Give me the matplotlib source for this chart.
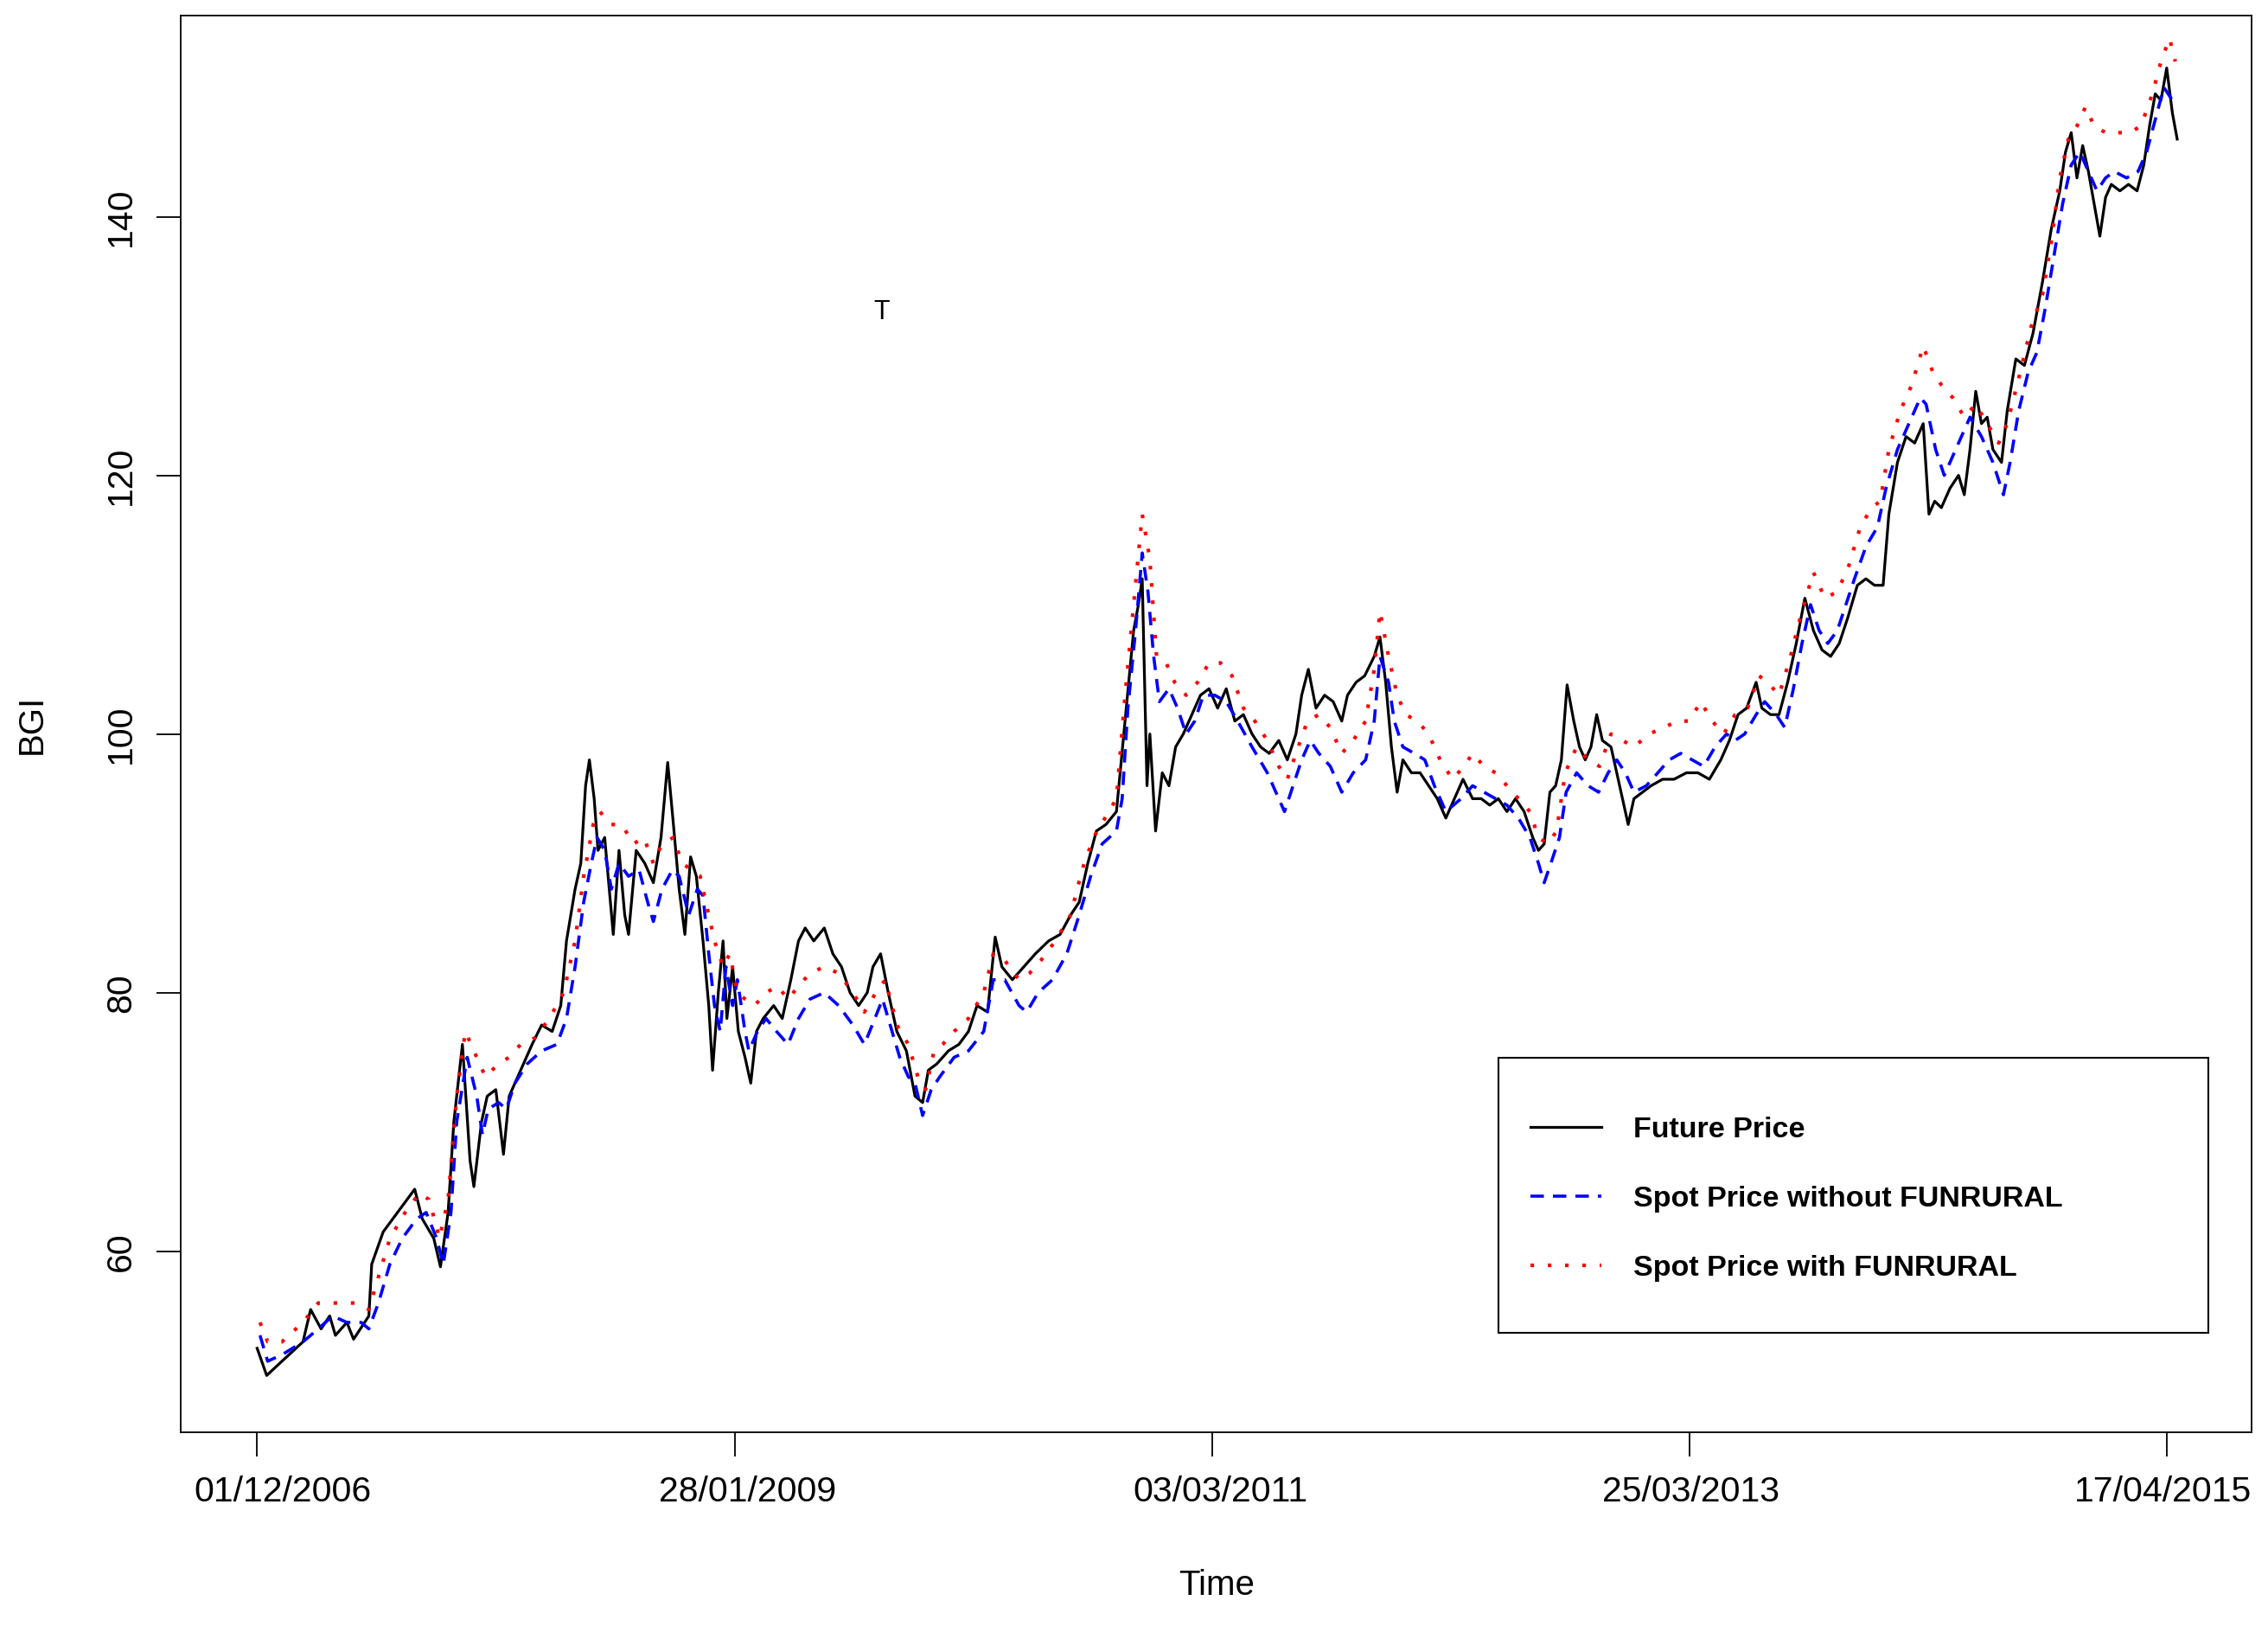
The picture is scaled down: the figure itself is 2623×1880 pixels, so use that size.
import numpy as np
import matplotlib.pyplot as plt
import matplotlib.transforms as mtransforms
from matplotlib.patches import Rectangle

plt.rcParams['font.family'] = ['Liberation Sans', 'DejaVu Sans']

# x axis is the observation number, labelled with dates every 500 obs
tick_pos = [0, 500, 1000, 1500, 2000]
tick_dates = ["01/12/2006", "28/01/2009", "03/03/2011", "25/03/2013", "17/04/2015"]
y_ticks = [60, 80, 100, 120, 140]

# Future Price (black)
fut_idx = [0, 10, 26, 48, 56, 67, 76, 82, 94, 101, 117, 120, 132, 147, 165, 173, 185, 192, 200, 206,
           215, 223, 227, 235, 241, 250, 258, 264, 276, 288, 298, 309, 318, 324, 333, 339, 344, 348, 353, 357,
           364, 370, 373, 379, 385, 389, 397, 406, 415, 423, 430, 436, 442, 448, 454, 460, 467, 473, 477, 483,
           488, 492, 498, 504, 511, 517, 523, 530, 541, 550, 559, 567, 574, 583, 594, 603, 612, 621, 630, 639,
           645, 653, 661, 670, 680, 689, 697, 703, 712, 724, 735, 745, 754, 765, 773, 780, 791, 803, 815, 829,
           841, 852, 861, 870, 879, 889, 900, 909, 918, 923, 927, 932, 935, 941, 948, 955, 962, 970, 979, 988,
           997, 1006, 1015, 1024, 1033, 1042, 1051, 1060, 1070, 1079, 1088, 1094, 1101, 1109, 1118, 1127, 1136, 1142, 1151, 1160,
           1170, 1176, 1182, 1188, 1194, 1200, 1209, 1218, 1227, 1236, 1245, 1254, 1263, 1273, 1282, 1291, 1300, 1309, 1318, 1327,
           1336, 1342, 1348, 1354, 1360, 1366, 1372, 1379, 1385, 1391, 1397, 1403, 1409, 1418, 1427, 1436, 1442, 1451, 1460, 1472,
           1484, 1497, 1509, 1521, 1533, 1542, 1551, 1560, 1570, 1576, 1585, 1594, 1603, 1612, 1621, 1630, 1639, 1648, 1657, 1666,
           1676, 1685, 1694, 1703, 1709, 1718, 1727, 1736, 1745, 1751, 1757, 1764, 1773, 1782, 1788, 1794, 1800, 1806, 1812, 1818,
           1827, 1833, 1842, 1851, 1860, 1870, 1879, 1888, 1894, 1900, 1906, 1912, 1918, 1924, 1930, 1936, 1942, 1951, 1960, 1969,
           1976, 1982, 1988, 1994, 2000, 2006, 2011]
fut_val = [52.5, 50.4, 51.5, 53, 55.5, 54, 55, 53.5, 54.5, 53.2, 55, 59, 61.5, 63, 64.8, 62.5, 61, 58.8, 63, 70,
           76, 67, 65, 70, 72, 72.5, 67.5, 72, 74, 76, 77.5, 77, 79, 84, 88, 90, 96, 98, 95, 91,
           92, 87, 84.5, 91, 86, 84.5, 91, 90, 88.5, 92, 97.8, 93, 88, 84.5, 90.5, 89, 84, 79, 74, 80,
           84, 78, 82, 77, 75, 73, 77, 78, 79, 78, 81, 84, 85, 84, 85, 83, 82, 80, 79, 80,
           82, 83, 80, 77, 75.5, 72, 71.5, 74, 74.5, 75.5, 76, 77, 79, 78.5, 84.3, 82, 81, 82, 83, 84,
           84.5, 86, 87, 90, 92.5, 93, 94, 101, 108, 110, 112, 96, 100, 92.5, 97, 96, 99, 100, 101.5, 103,
           103.5, 102, 103.5, 101, 101.5, 100, 99, 98.5, 99.5, 98, 100, 103, 105, 102, 103, 102.5, 101, 103, 104, 104.5,
           106, 107.5, 104, 99, 95.5, 98, 97, 97, 96, 95, 93.5, 95, 96.5, 95, 95, 94.5, 95, 94, 95, 94,
           92, 91, 91.5, 95.5, 96, 98, 103.8, 101, 99, 98, 99, 101.5, 99.5, 99, 96, 93, 95, 95.5, 96, 96.5,
           96.5, 97, 97, 96.5, 98, 99.5, 101.5, 102, 104, 102, 101.5, 101.5, 104, 107, 110.5, 108, 106.5, 106, 107, 109,
           111.5, 112, 111.5, 111.5, 117, 121, 123, 122.5, 124, 117, 118, 117.5, 119, 120, 118.5, 122, 126.5, 124, 124.5, 122,
           121, 125, 129, 128.5, 131, 135, 139, 142, 145, 146.5, 143, 145.5, 143.5, 141, 138.5, 141.5, 142.5, 142, 142.5, 142,
           144, 147, 149.5, 149, 151.5, 148, 146]

# Spot Price without FUNRURAL (blue dashed)
spot_idx = [3, 11, 26, 48, 64, 79, 94, 109, 117, 127, 139, 152, 167, 177, 188, 195, 203, 209, 220, 230,
            236, 242, 253, 261, 270, 283, 298, 314, 324, 333, 342, 350, 356, 364, 371, 379, 389, 400, 409, 415,
            424, 435, 442, 452, 461, 467, 473, 479, 485, 491, 498, 503, 511, 515, 524, 533, 544, 556, 567, 579,
            594, 609, 624, 636, 647, 655, 665, 673, 682, 689, 697, 706, 715, 730, 745, 761, 771, 783, 798, 806,
            818, 833, 848, 861, 873, 885, 900, 906, 912, 920, 927, 933, 939, 945, 955, 964, 973, 982, 991, 1003,
            1015, 1027, 1042, 1058, 1067, 1076, 1085, 1094, 1103, 1112, 1124, 1136, 1148, 1161, 1170, 1176, 1185, 1191, 1200, 1212,
            1223, 1233, 1245, 1261, 1273, 1285, 1297, 1309, 1321, 1333, 1342, 1348, 1355, 1364, 1371, 1382, 1394, 1405, 1415, 1424,
            1433, 1442, 1455, 1467, 1479, 1491, 1503, 1515, 1527, 1539, 1548, 1558, 1570, 1579, 1591, 1600, 1609, 1618, 1627, 1636,
            1645, 1655, 1664, 1673, 1685, 1697, 1706, 1718, 1730, 1742, 1748, 1758, 1767, 1776, 1785, 1794, 1806, 1818, 1829, 1836,
            1845, 1855, 1864, 1873, 1882, 1891, 1900, 1909, 1918, 1927, 1936, 1945, 1958, 1970, 1979, 1988, 1997, 2006]
spot_val = [53.5, 51.5, 52, 53, 54, 55, 54.5, 54.5, 54, 56, 59, 61, 62.5, 63, 61, 59, 63, 70, 75, 72,
            69, 71, 71.5, 71, 73, 74.5, 75.5, 76, 78, 82, 87, 90, 92, 91, 88, 90, 89, 89.5, 87, 85.5,
            88, 89.5, 89, 86, 88, 87.5, 83, 79, 77, 82, 79, 81, 77, 75.5, 77, 78, 77, 76, 78, 79.5,
            80, 79, 77.5, 76, 78, 79.5, 77, 75, 73.5, 73, 70.5, 72.5, 73.5, 75, 75.5, 77, 81, 81, 79, 78.5,
            80, 81, 83, 86, 89, 91.5, 92.5, 95, 102, 108, 114, 111, 106, 102.5, 103.5, 102, 100, 101, 103, 103,
            102.5, 101, 99, 97, 95.5, 94, 96, 98, 99.5, 98.5, 97.5, 95.5, 97, 98, 101, 106, 104, 101, 99, 98.5,
            98, 96, 94, 95, 96, 95.5, 95, 94.5, 93.5, 92, 90, 88.5, 90, 92, 95.5, 97, 96, 95.5, 97, 98,
            97, 95.5, 96, 97, 98, 98.5, 98, 97.5, 99, 100, 99.5, 100, 101.5, 102.5, 101.5, 100.5, 103.5, 107, 110, 108,
            107, 108, 110, 112, 114.5, 116, 119, 122, 124, 126, 125.5, 122, 120, 121.5, 123, 124.5, 123, 121, 118.5, 121,
            125, 128, 129.5, 133, 137, 141, 144, 145, 143.5, 142, 143, 143.5, 143, 143.5, 145, 147.5, 150, 149]

# Spot Price with FUNRURAL (red dotted)
fun_idx = [3, 11, 26, 48, 64, 82, 102, 117, 127, 139, 155, 170, 180, 191, 200, 209, 218, 230, 239, 253,
           264, 276, 291, 306, 321, 333, 342, 352, 359, 370, 382, 394, 405, 415, 424, 436, 445, 455, 464, 473,
           479, 488, 495, 503, 511, 521, 533, 545, 556, 567, 579, 594, 609, 624, 636, 648, 658, 670, 682, 692,
           700, 709, 718, 730, 745, 761, 771, 783, 798, 809, 821, 836, 852, 864, 876, 888, 900, 909, 918, 927,
           935, 942, 952, 961, 973, 985, 997, 1009, 1021, 1033, 1045, 1058, 1070, 1079, 1088, 1100, 1112, 1124, 1136, 1148,
           1161, 1170, 1176, 1185, 1194, 1203, 1215, 1227, 1239, 1252, 1264, 1273, 1285, 1297, 1309, 1321, 1333, 1342, 1352, 1361,
           1370, 1382, 1394, 1406, 1418, 1430, 1442, 1458, 1473, 1488, 1500, 1512, 1524, 1536, 1548, 1561, 1573, 1582, 1594, 1606,
           1618, 1630, 1642, 1655, 1667, 1679, 1691, 1700, 1709, 1721, 1733, 1745, 1755, 1764, 1776, 1788, 1800, 1812, 1824, 1833,
           1845, 1858, 1870, 1879, 1888, 1897, 1906, 1915, 1924, 1936, 1948, 1961, 1973, 1985, 1994, 2003, 2009]
fun_val = [54.5, 53, 53, 54.5, 56, 56, 56, 55.5, 58, 61, 63, 64.5, 64, 61, 64, 72, 77, 75, 73.5, 74.5,
           75, 76, 76.5, 78, 80, 84, 89, 93, 94, 93, 93, 91.5, 92, 90, 91.5, 92, 90, 89.5, 89, 86,
           84, 82, 83, 80, 79.5, 79, 80, 80.5, 79.5, 80.5, 81.5, 82, 81.5, 80, 78.5, 80, 81, 77.5, 76, 73.5,
           72.5, 75.5, 76, 77, 78, 80, 83, 82.5, 81, 81.5, 82.5, 84, 86, 89.5, 92, 93.5, 95, 103, 110, 117,
           113.5, 106, 105.5, 104, 103, 104, 105.5, 105.5, 104.5, 102, 101, 99.5, 97.5, 96.5, 98.5, 101, 101.5, 100.5, 98.5, 99.5,
           101, 105, 109.5, 106, 103, 101.5, 101, 100, 98, 96.5, 97.5, 98.5, 97.5, 97, 96, 95, 94, 92, 91.5, 92.5,
           97, 99, 98, 97.5, 100, 99.5, 99, 100, 100.5, 101, 101, 102.5, 101, 100, 101.5, 102, 104.5, 104, 103, 106,
           109.5, 112.5, 110.5, 111, 113, 116, 117.5, 118, 122, 125, 127, 130, 128, 127, 126, 124.5, 125.5, 124, 122.5, 124,
           127.5, 131.5, 134, 138, 143, 146, 147, 148.5, 147, 146.5, 146.5, 146.5, 147, 149.5, 152, 153.8, 152]

assert len(fut_idx) == len(fut_val)
assert len(spot_idx) == len(spot_val)
assert len(fun_idx) == len(fun_val)

fig = plt.figure(figsize=(26.23, 18.80), dpi=100)
ax = fig.add_axes([0.0797, 0.1191, 0.9131, 0.8713])

ax.plot(fut_idx, fut_val, color='black', lw=2.3, label='Future Price')
ax.plot(spot_idx, spot_val, color='blue', lw=2.6, ls=(0, (4.3, 2.9)),
        label='Spot Price without FUNRURAL')
ax.plot(fun_idx, fun_val, color='red', lw=3.0, ls=(0, (1, 3.8)),
        label='Spot Price with FUNRURAL')

ax.text(654, 132.6, 'T', fontsize=22, ha='center', va='center')

ax.set_xlim(-80, 2089)
ax.set_ylim(46.0, 155.55)
ax.set_xticks(tick_pos, tick_dates)
ax.set_yticks(y_ticks)
ax.tick_params(length=20, width=1.3, labelsize=29.5, pad=16, direction='out')
ax.tick_params(axis='y', labelrotation=90)
for lab in ax.get_yticklabels():
    lab.set_va('center')
for sp in ax.spines.values():
    sp.set_linewidth(1.3)

# the date labels sit a little right of their ticks in the original
shifts = [0.30, 0.15, 0.10, 0.02, -0.04]
for lab, dx in zip(ax.get_xticklabels(), shifts):
    lab.set_transform(lab.get_transform() +
                      mtransforms.ScaledTranslation(dx, 0, fig.dpi_scale_trans))

ax.set_xlabel('Time', fontsize=29, labelpad=50)
ax.set_ylabel('BGI', fontsize=29, labelpad=47)

# legend box like R's legend()
ax.add_patch(Rectangle((0.6363, 0.0702), 0.3428, 0.1941, transform=ax.transAxes,
                       fill=False, edgecolor='black', lw=1.5, zorder=5))
ax.legend(loc='upper left', bbox_to_anchor=(0.6518, 0.2228), frameon=False,
          prop={'weight': 'bold', 'size': 24.5}, handlelength=2.4, handletextpad=1.1,
          labelspacing=1.44, borderpad=0, borderaxespad=0)

fig.savefig('out.png', dpi=100)
